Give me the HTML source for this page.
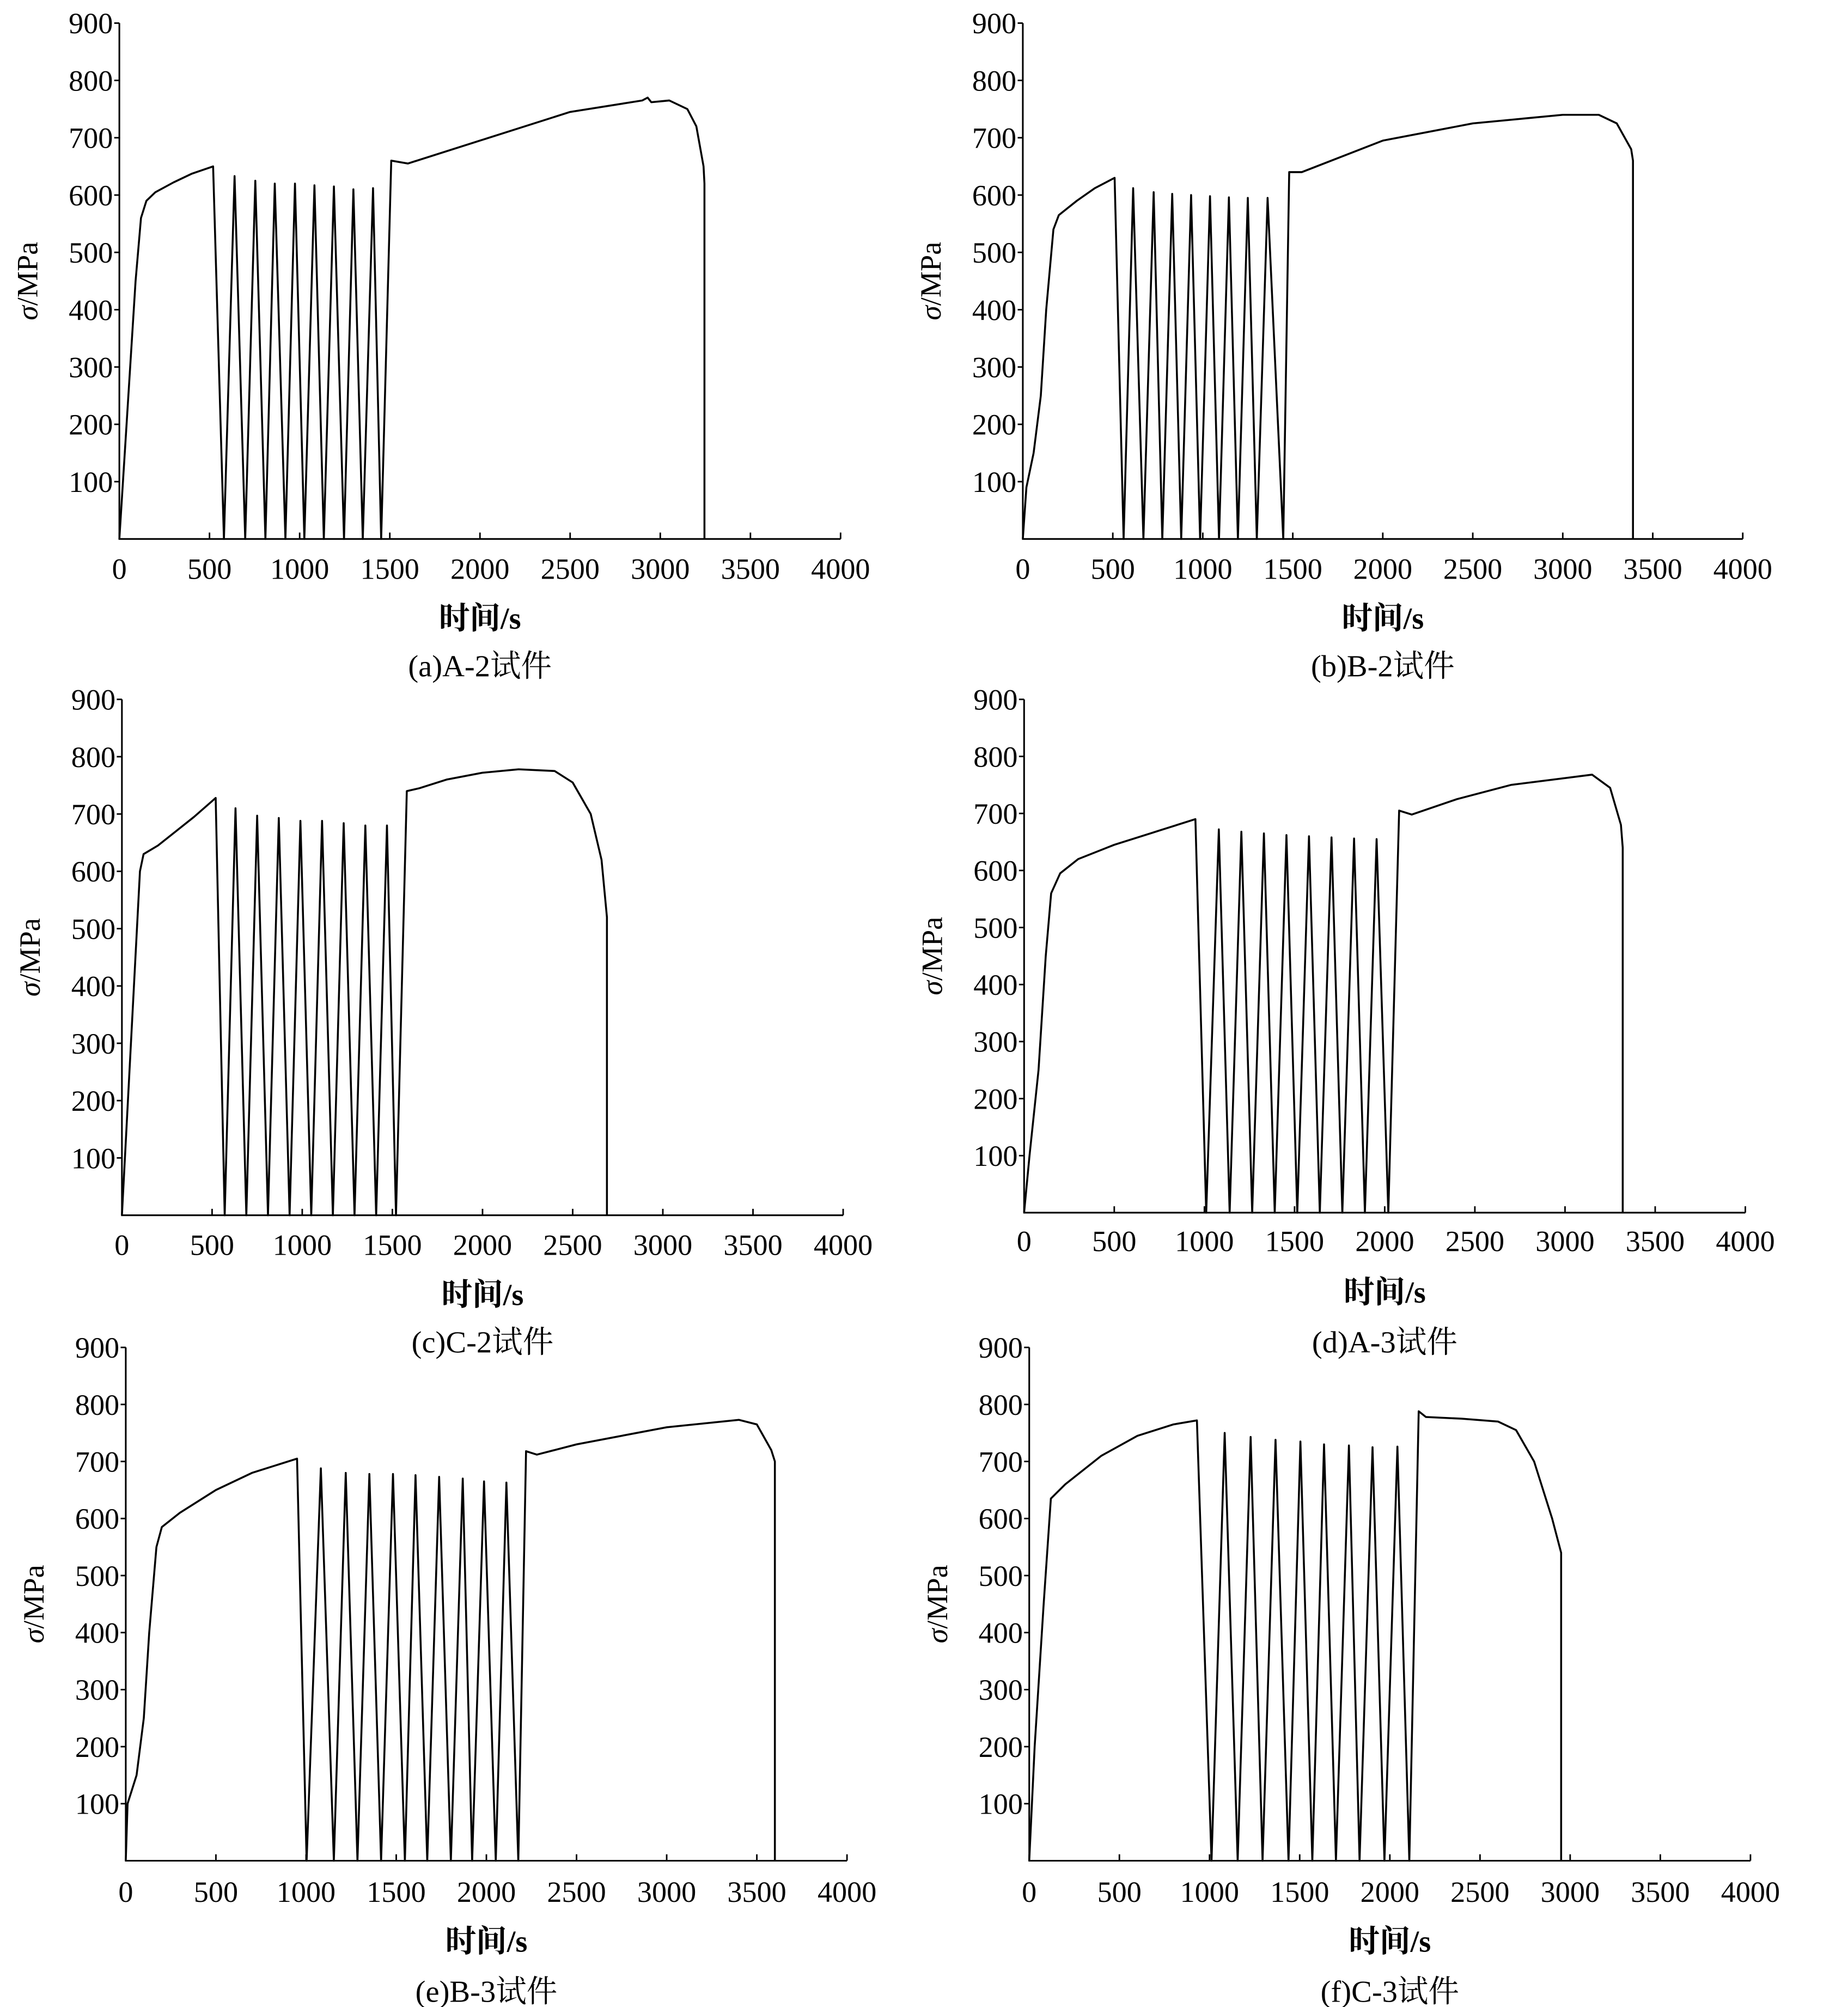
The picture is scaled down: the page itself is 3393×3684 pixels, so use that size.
<!DOCTYPE html>
<html><head><meta charset="utf-8"><style>
html,body{margin:0;padding:0;background:#fff;}
svg{display:block;}
text{font-family:"Liberation Serif","Noto Serif CJK SC",serif;fill:#000;}
</style></head><body>
<svg id="fig" width="3393" height="3684" viewBox="0 0 1440 1564" preserveAspectRatio="none" xmlns="http://www.w3.org/2000/svg"></svg>
<script>
const xTicks=[0,500,1000,1500,2000,2500,3000,3500,4000];
const yTicks=[100,200,300,400,500,600,700,800,900];
const captions=["(a)A-2试件","(b)B-2试件","(c)C-2试件","(d)A-3试件","(e)B-3试件","(f)C-3试件"];
const tA=[0,30,60,90,120,150,200,300,400,520,580,639,698,754,810,862,921,974,1026,1082,1134,1190,1246,1298,1350,1407,1452,1508,1600,2000,2500,2900,2930,2950,3050,3150,3200,3240,3245,3245];
const sA=[0,150,300,450,560,590,605,622,637,650,0,633,0,625,0,620,0,620,0,617,0,615,0,610,0,612,0,660,655,695,745,765,770,762,765,750,720,650,620,0];
const tB=[0,20,60,100,130,170,200,300,400,510,560,613,670,727,775,830,880,935,985,1040,1090,1145,1195,1250,1300,1360,1447,1480,1550,2000,2500,3000,3200,3300,3380,3390,3390];
const sB=[0,90,150,250,400,540,565,590,612,630,0,612,0,605,0,602,0,600,0,598,0,596,0,595,0,595,0,640,640,695,725,740,740,725,680,660,0];
const tC=[0,50,100,120,200,300,400,520,570,630,690,750,810,870,930,990,1050,1110,1170,1230,1290,1350,1410,1470,1520,1580,1650,1800,2000,2200,2400,2500,2600,2660,2690,2690];
const sC=[0,300,600,630,645,670,695,728,0,710,0,697,0,693,0,688,0,688,0,684,0,680,0,680,0,740,745,760,772,778,775,755,700,620,520,0];
const tD=[0,30,80,120,150,200,300,500,700,950,1010,1080,1140,1205,1265,1330,1390,1455,1515,1580,1640,1705,1765,1830,1890,1955,2020,2080,2150,2400,2700,3000,3150,3250,3310,3320,3320];
const sD=[0,100,250,450,560,595,620,645,665,690,0,672,0,668,0,665,0,662,0,660,0,658,0,656,0,655,0,705,698,725,750,762,768,745,680,640,0];
const tE=[0,10,60,100,130,170,200,300,500,700,950,1003,1082,1154,1220,1285,1351,1416,1482,1548,1607,1672,1738,1803,1869,1921,1987,2052,2111,2177,2220,2280,2500,3000,3400,3500,3580,3600,3600];
const sE=[0,100,150,250,400,550,585,610,650,680,705,0,688,0,680,0,678,0,678,0,676,0,673,0,670,0,665,0,663,0,718,712,730,760,773,765,720,700,0];
const tF=[0,30,80,120,200,400,600,800,930,1011,1084,1156,1228,1294,1366,1438,1504,1570,1635,1701,1773,1832,1904,1970,2042,2108,2160,2200,2400,2600,2700,2800,2900,2950,2950];
const sF=[0,200,450,635,660,710,745,765,772,0,750,0,743,0,738,0,735,0,730,0,728,0,725,0,726,0,788,778,775,770,755,700,600,540,0];
const seriesT=[tA,tB,tC,tD,tE,tF];
const seriesS=[sA,sB,sC,sD,sE,sF];
const panels=[
 {x0:93,x1:655,yTop:18,y0:420,tl:443,xl:481,cap:518},
 {x0:797,x1:1358,yTop:18,y0:420,tl:443,xl:481,cap:518},
 {x0:95,x1:657,yTop:545,y0:947,tl:970,xl:1008,cap:1045},
 {x0:798,x1:1360,yTop:545,y0:945,tl:967,xl:1006,cap:1045},
 {x0:98,x1:660,yTop:1050,y0:1450,tl:1474,xl:1512,cap:1551},
 {x0:802,x1:1364,yTop:1050,y0:1450,tl:1474,xl:1512,cap:1551}
];
const NS="http://www.w3.org/2000/svg";
const svg=document.getElementById('fig');
function mk(tag,attrs,parent){const e=document.createElementNS(NS,tag);for(const k in attrs)e.setAttribute(k,attrs[k]);parent.appendChild(e);return e;}
panels.forEach((p,i)=>{
 const sx=t=>p.x0+(t/4000)*(p.x1-p.x0);
 const sy=v=>p.y0-(v/900)*(p.y0-p.yTop);
 const g=mk('g',{},svg);
 
 
 const ax=mk('path',{d:`M${p.x0},${p.yTop}V${p.y0}H${p.x1}`,stroke:'#000','stroke-width':1.3,fill:'none'},g);
 
 
 yTicks.forEach(v=>{
  mk('line',{x1:p.x0-4,x2:p.x0,y1:sy(v),y2:sy(v),stroke:'#000','stroke-width':1.2},g);
  const t=mk('text',{x:p.x0-5,y:sy(v)+8,'text-anchor':'end','font-size':23},g);
  t.textContent=v;
  
  
 });
 xTicks.forEach(v=>{
  mk('line',{x1:sx(v),x2:sx(v),y1:p.y0,y2:p.y0-5,stroke:'#000','stroke-width':1.2},g);
  const t=mk('text',{x:sx(v),y:p.tl+8,'text-anchor':'middle','font-size':23},g);
  t.textContent=v;
  
  
 });
 const yl=mk('text',{x:0,y:0,'text-anchor':'middle','font-size':23,transform:`translate(${p.x0-64},${(p.y0+p.yTop)/2}) rotate(-90)`},g);
 yl.innerHTML='<tspan font-style="italic">σ</tspan>/MPa';
 
 
 const xl=mk('text',{x:(p.x0+p.x1)/2,y:p.xl+9,'text-anchor':'middle','font-size':24,'font-weight':'bold'},g);
 xl.textContent='时间/s';
 
 
 const cp=mk('text',{x:(p.x0+p.x1)/2,y:p.cap+9,'text-anchor':'middle','font-size':24},g);
 cp.textContent=captions[i];
 
 
 const T=seriesT[i],S=seriesS[i];
 let d='';
 T.forEach((t,k)=>{d+=(k?'L':'M')+sx(t).toFixed(2)+','+sy(S[k]).toFixed(2);});
 const ln=mk('path',{d:d,stroke:'#000','stroke-width':1.5,fill:'none','stroke-linejoin':'round'},g);
 
 
});
</script>
</body></html>
